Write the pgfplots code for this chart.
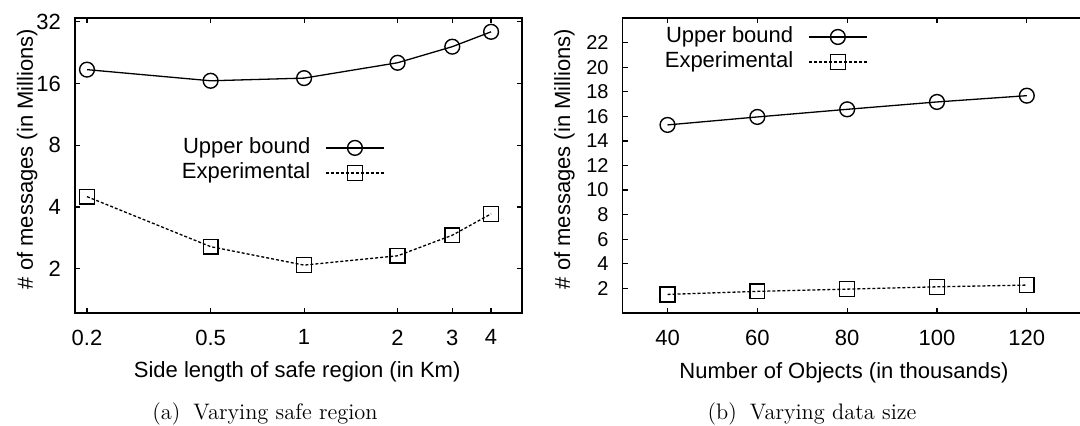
\documentclass[border=0pt]{standalone}
\usepackage{fontspec}
\usepackage{pgfplots}
\pgfplotsset{compat=1.18}
\newfontfamily\arial{Liberation Sans}

\pgfplotsset{
  gnu/.style={
    scale only axis,
    axis line style={line width=0.75pt},
    tick align=inside,
    major tick length=2.5pt,
    tick style={black, line width=0.6pt},
    minor tick num=0,
    font=\arial\fontsize{11}{13}\selectfont,
    ticklabel style={font=\arial\fontsize{11}{13}\selectfont},
    /pgf/number format/assume math mode=true,
    yticklabel style={xshift=-3.5pt},
    xticklabel style={yshift=-4.8pt},
    legend plot pos=right,
    legend cell align=right,
    legend style={draw=none, fill=none, inner sep=0pt, column sep=7pt, row sep=1pt,
      font=\arial\fontsize{11}{13}\selectfont,
      nodes={inner sep=0.5pt, text height=8pt, text depth=2.5pt}},
    legend image code/.code={
      \draw[mark repeat=2, mark phase=2, #1]
        plot coordinates {(0pt,0pt) (14.5pt,0pt) (29pt,0pt)};},
  },
  ub/.style={black, line width=0.65pt, mark=o, mark size=3.7pt,
    mark options={solid, line width=0.7pt}},
  ex/.style={black, line width=0.65pt, mark=square, mark size=3.7pt,
    dash pattern=on 1.5pt off 1pt, mark options={solid, line width=0.7pt}},
}

\begin{document}
\begin{tikzpicture}
\useasboundingbox (0,0) rectangle (540pt,213pt);

% (a) safe region
\begin{axis}[gnu,
  at={(37.5pt,56.5pt)}, anchor=south west,
  width=223.5pt, height=147.5pt,
  xmode=log, ymode=log,
  xmin=0.183, xmax=5.03, ymin=1.215, ymax=33.4,
  xtick={0.2,0.5,1,2,3,4}, xticklabels={0.2,0.5,1,2,3,4},
  ytick={2,4,8,16,32}, yticklabels={2,4,8,16,32},
  xlabel={Side length of safe region (in Km)},
  ylabel={\# of messages (in Millions)},
  every axis x label/.style={at={(axis description cs:0.497,0)}, anchor=base, yshift=-32.5pt},
  every axis y label/.style={at={([xshift=-21pt]axis description cs:0,0.522)}, rotate=90, anchor=base},
  legend style={at={(axis description cs:0.6935,0.60)}, anchor=north east},
]
\addplot[ub] coordinates {(0.2,18.7) (0.5,16.5) (1,17.0) (2,20.2) (3,24.2) (4,28.6)};
\addlegendentry{Upper bound}
\addplot[ex] coordinates {(0.2,4.49) (0.5,2.56) (1,2.08) (2,2.31) (3,2.91) (4,3.70)};
\addlegendentry{Experimental}
\end{axis}

% (b) data size
\begin{axis}[gnu,
  at={(311.3pt,56.5pt)}, anchor=south west,
  width=247pt, height=147.5pt,
  xmin=30, xmax=140, ymin=0, ymax=24,
  xtick={40,60,80,100,120},
  ytick={2,4,...,22},
  yticklabel style={font=\arial\fontsize{10}{12}\selectfont},
  xlabel={Number of Objects (in thousands)},
  ylabel={\# of messages (in Millions)},
  every axis x label/.style={at={(axis description cs:0.448,0)}, anchor=base, yshift=-33pt},
  every axis y label/.style={at={([xshift=-26.3pt]axis description cs:0,0.522)}, rotate=90, anchor=base},
  legend style={at={(axis description cs:0.4966,0.976)}, anchor=north east},
]
\addplot[ub] coordinates {(40,15.3) (60,15.95) (80,16.57) (100,17.17) (120,17.68)};
\addlegendentry{Upper bound}
\addplot[ex] coordinates {(40,1.51) (60,1.76) (80,1.94) (100,2.13) (120,2.27)};
\addlegendentry{Experimental}
\end{axis}

\node[anchor=base, font=\fontsize{11.2}{13}\selectfont] at (132.5pt,3pt) {(a)\hspace{6.5pt}Varying safe region};
\node[anchor=base, font=\fontsize{11.2}{13}\selectfont] at (406pt,3pt) {(b)\hspace{6.5pt}Varying data size};
\end{tikzpicture}
\end{document}
